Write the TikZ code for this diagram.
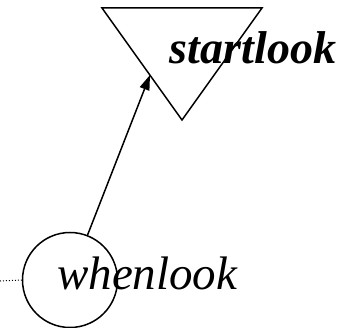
\documentclass[tikz,border=0pt]{standalone}
\usepackage{fontspec}
\setmainfont{Liberation Serif}
\usetikzlibrary{arrows.meta}
\begin{document}
\begin{tikzpicture}[x=1pt,y=-1pt,
  edge/.style={line width=1.5pt},
  lbl/.style={inner sep=0pt, font=\fontsize{47}{47}\selectfont\itshape},
  blbl/.style={inner sep=0pt, font=\fontsize{46}{46}\selectfont\bfseries\itshape}]
\useasboundingbox (0,0) rectangle (347,328);
\coordinate (tl) at (102,8);
\coordinate (tr) at (262,8);
\coordinate (tb) at (182,120);
\draw[edge] (tl) -- (tr) -- (tb) -- cycle;
\node[circle, draw, edge, minimum size=95pt, inner sep=0pt] (c) at (70,280) {};
\node[lbl, anchor=base west] (wl) at (57,289) {whenlook};
\node[blbl, anchor=base] (sl) at (253,64) {startlook};
\coordinate (ae) at (150,75);
\draw[edge, -{Triangle[length=15pt,width=10pt]}] (c) -- (ae);
\coordinate (d) at (0,281);
\draw[dotted, line width=1pt] (d) -- (c.west);
\end{tikzpicture}
\end{document}
